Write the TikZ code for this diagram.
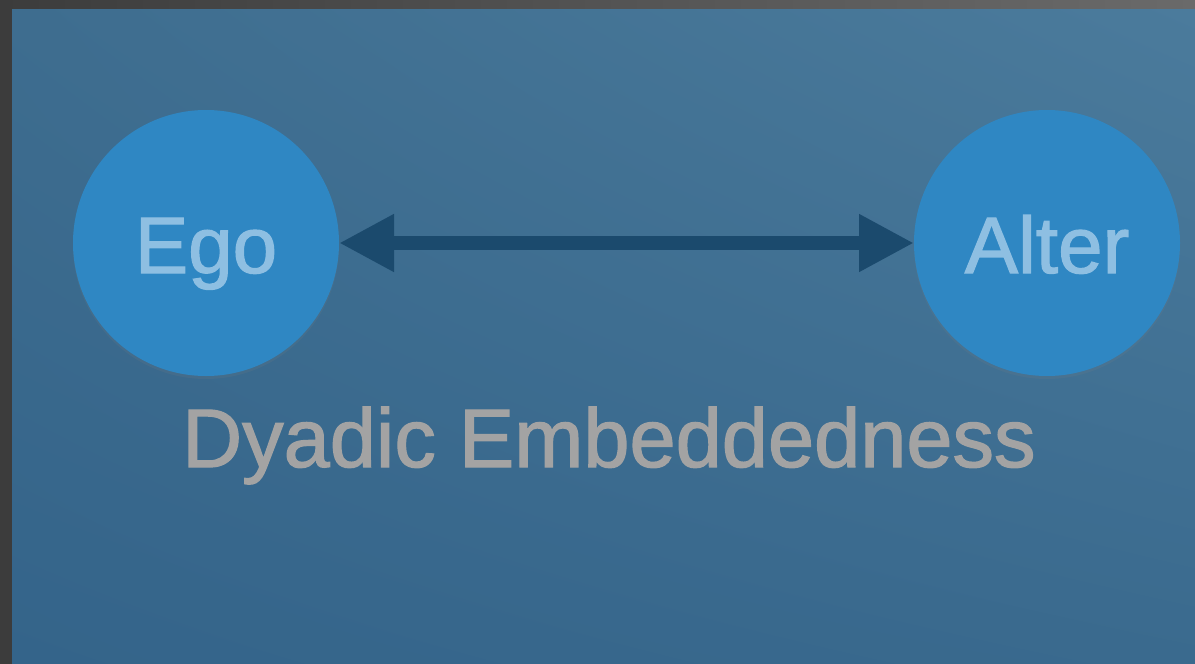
\documentclass[tikz,border=0pt]{standalone}
\usepackage{fontspec}
\setmainfont{Liberation Sans}
\newfontfamily\slidefont[FakeBold=1.5]{Liberation Sans}
\usetikzlibrary{arrows.meta,shadows,shadings}

\definecolor{frameleft}{HTML}{3C3C3C}
\definecolor{frameright}{HTML}{6A6A6A}
\definecolor{bgUL}{HTML}{3E6D8F}
\definecolor{bgUR}{HTML}{4B7B9C}
\definecolor{bgLL}{HTML}{34648A}
\definecolor{bgLR}{HTML}{3A6A8E}
\definecolor{nodefill}{HTML}{2F87C3}
\definecolor{nodetext}{HTML}{8EBFE2}
\definecolor{linkcol}{HTML}{1B4A6D}
\definecolor{captiontext}{HTML}{A3A3A3}

\tikzset{
  person/.style={circle, fill=nodefill, minimum size=266pt, inner sep=0pt, outer sep=0pt,
    text=nodetext, font=\slidefont\fontsize{80}{90}\selectfont, text height=60pt, text depth=0pt,
    drop shadow={opacity=0.15, shadow xshift=0pt, shadow yshift=-3pt}},
  link/.style={draw=linkcol, line width=14pt,
    {Triangle[length=55pt,width=54pt]}-{Triangle[length=55pt,width=54pt]}},
  caption/.style={text=captiontext, font=\slidefont\fontsize{83}{90}\selectfont, inner sep=0pt, anchor=base}
}

\begin{document}
\begin{tikzpicture}[x=1pt,y=-1pt]
  \useasboundingbox (0,0) rectangle (1195,664);
  % dark outer frame
  \shade[left color=frameleft, right color=frameright] (0,0) rectangle (1195,664);
  % slide background
  \shade[upper left=bgUL, upper right=bgUR, lower left=bgLL, lower right=bgLR]
    (12,9) rectangle (1195,664);

  \node[person] (ego) at (206,243) {Ego};
  \node[person] (alter) at (1047,243) {Alter};

  \draw[link] (ego) -- (alter);

  \node[caption] (dyad) at (609,467) {Dyadic Embeddedness};
\end{tikzpicture}
\end{document}
